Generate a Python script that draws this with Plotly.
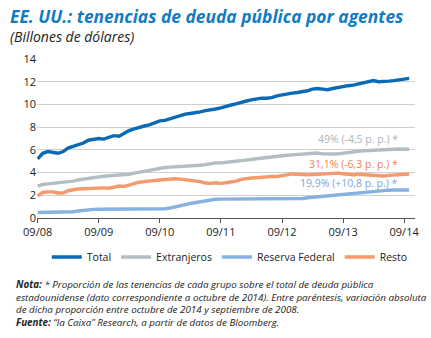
import pandas as pd
import plotly.graph_objects as go

# Monthly holdings of US public debt, trillions of dollars (Sep 2008 - Oct 2014)
months = pd.date_range("2008-09-01", periods=74, freq="MS")

total = [5.2, 5.7, 5.85, 5.8, 5.7, 5.85, 6.15, 6.3, 6.45, 6.6,
         6.85, 6.95, 7.0, 6.95, 7.1, 7.25, 7.2, 7.45, 7.7, 7.85,
         8.0, 8.1, 8.2, 8.4, 8.55, 8.6, 8.75, 8.9, 9.05, 9.15,
         9.2, 9.25, 9.35, 9.45, 9.5, 9.6, 9.7, 9.85, 9.95, 10.05,
         10.2, 10.3, 10.4, 10.5, 10.55, 10.55, 10.6, 10.75, 10.85, 10.95,
         11.0, 11.05, 11.1, 11.2, 11.35, 11.4, 11.35, 11.3, 11.4, 11.5,
         11.55, 11.65, 11.7, 11.8, 11.85, 11.95, 12.1, 12.0, 12.0, 12.05,
         12.1, 12.15, 12.25, 12.3]

extranjeros = [2.8, 2.95, 3.0, 3.05, 3.05, 3.1, 3.2, 3.25, 3.35, 3.4,
               3.5, 3.55, 3.62, 3.68, 3.7, 3.75, 3.8, 3.8, 3.85, 3.95,
               4.0, 4.1, 4.2, 4.3, 4.38, 4.45, 4.48, 4.5, 4.52, 4.53,
               4.55, 4.58, 4.65, 4.7, 4.8, 4.85, 4.85, 4.92, 4.97, 5.0,
               5.05, 5.08, 5.15, 5.22, 5.28, 5.33, 5.38, 5.42, 5.47, 5.52,
               5.56, 5.6, 5.63, 5.66, 5.75, 5.72, 5.65, 5.62, 5.63, 5.65,
               5.72, 5.8, 5.85, 5.88, 5.92, 5.95, 6.0, 6.0, 6.0, 6.02,
               6.05, 6.07, 6.08, 6.05]

reserva_federal = [0.48, 0.48, 0.48, 0.48, 0.48, 0.48, 0.5, 0.55, 0.62, 0.68,
                   0.72, 0.76, 0.77, 0.77, 0.77, 0.77, 0.77, 0.77, 0.77, 0.77,
                   0.78, 0.78, 0.79, 0.8, 0.8, 0.82, 0.88, 1.0, 1.08, 1.18,
                   1.28, 1.36, 1.45, 1.55, 1.62, 1.65, 1.66, 1.66, 1.66, 1.66,
                   1.66, 1.66, 1.65, 1.65, 1.65, 1.65, 1.65, 1.65, 1.65, 1.65,
                   1.65, 1.68, 1.72, 1.78, 1.82, 1.88, 1.93, 1.98, 2.03, 2.08,
                   2.13, 2.18, 2.22, 2.26, 2.3, 2.34, 2.38, 2.41, 2.43, 2.45,
                   2.46, 2.47, 2.47, 2.46]

resto = [1.95, 2.25, 2.3, 2.3, 2.2, 2.2, 2.4, 2.5, 2.55, 2.57,
         2.6, 2.62, 2.68, 2.65, 2.62, 2.75, 2.82, 2.78, 2.9, 3.05,
         3.15, 3.2, 3.28, 3.3, 3.35, 3.38, 3.48, 3.45, 3.42, 3.38,
         3.35, 3.3, 3.2, 3.08, 3.05, 3.1, 3.05, 3.1, 3.15, 3.25,
         3.4, 3.5, 3.52, 3.55, 3.6, 3.63, 3.65, 3.65, 3.7, 3.8,
         3.88, 3.85, 3.8, 3.8, 3.82, 3.85, 3.84, 3.85, 3.9, 3.95,
         3.9, 3.82, 3.8, 3.85, 3.82, 3.72, 3.7, 3.72, 3.7, 3.75,
         3.8, 3.82, 3.85, 3.88]

tick_dates = pd.date_range("2008-09-01", periods=7, freq="12MS")
tick_labels = ["09/08", "09/09", "09/10", "09/11", "09/12", "09/13", "09/14"]

series = [
    ("Total", total, "#0a6ab5"),
    ("Extranjeros", extranjeros, "#b3bec2"),
    ("Reserva Federal", reserva_federal, "#86b2e2"),
    ("Resto", resto, "#f59a6c"),
]

# Share labels placed at the right end of each component series
share_labels = [
    ("49% (-4,5 p. p.) *", 6.95, "#a9b5b9"),
    ("31,1% (-6,3 p. p.) *", 4.75, "#f0845a"),
    ("19,9% (+10,8 p. p.) *", 3.08, "#7aa6dc"),
]

FONT = "Open Sans"

fig = go.Figure()
for name, vals, color in series:
    fig.add_trace(go.Scatter(x=months, y=vals, name=name, mode="lines",
                             line=dict(color=color, width=3.4)))

fig.update_layout(
    width=431, height=338,
    margin=dict(l=37, r=13, t=59, b=120),
    paper_bgcolor="white", plot_bgcolor="white",
    font=dict(family=FONT, size=11, color="#222"),
    showlegend=True,
    legend=dict(orientation="h", x=0.51, xanchor="center", y=-0.245,
                yanchor="middle", font=dict(size=10.5, color="#222"),
                itemwidth=30, tracegroupgap=0),
    xaxis=dict(type="date", range=["2008-08-28", "2014-11-05"],
               tickvals=tick_dates, ticktext=tick_labels,
               showgrid=False, showline=True, linecolor="#555", linewidth=1,
               ticks="outside", ticklen=4, tickcolor="#555",
               tickfont=dict(size=11, color="#222")),
    yaxis=dict(range=[0, 14], dtick=2, showgrid=True, gridcolor="#cfcfcf",
               gridwidth=1, zeroline=False, showline=False,
               tickfont=dict(size=11, color="#222")),
)

ann = []
ann.append(dict(text="<b><i>EE. UU.: tenencias de deuda pública por agentes</i></b>",
                xref="paper", yref="paper", x=-0.078, y=(218 - 16) / 159,
                xanchor="left", yanchor="middle", showarrow=False,
                font=dict(family=FONT, size=17.4, color="#0f7cc3")))
ann.append(dict(text="<i>(Billones de dólares)</i>",
                xref="paper", yref="paper", x=-0.078, y=(218 - 36) / 159,
                xanchor="left", yanchor="middle", showarrow=False,
                font=dict(family=FONT, size=14, color="#222")))
for txt, yv, col in share_labels:
    ann.append(dict(text=txt, xref="paper", yref="y", x=0.96, y=yv,
                    xanchor="right", yanchor="middle", showarrow=False,
                    font=dict(family=FONT, size=10.5, color=col)))
note = ("<b><i>Nota:</i></b><i> * Proporción de las tenencias de cada grupo sobre el total de deuda pública<br>"
        "estadounidense (dato correspondiente a octubre de 2014). Entre paréntesis, variación absoluta<br>"
        "de dicha proporción entre octubre de 2014 y septiembre de 2008.</i><br>"
        "<b><i>Fuente:</i></b><i> “la Caixa” Research, a partir de datos de Bloomberg.</i>")
ann.append(dict(text=note, xref="paper", yref="paper", x=-0.062, y=(218 - 276) / 159,
                xanchor="left", yanchor="top", align="left", showarrow=False,
                font=dict(family=FONT, size=9.8, color="#222")))
fig.update_layout(annotations=ann)

fig.write_html("out.html")
